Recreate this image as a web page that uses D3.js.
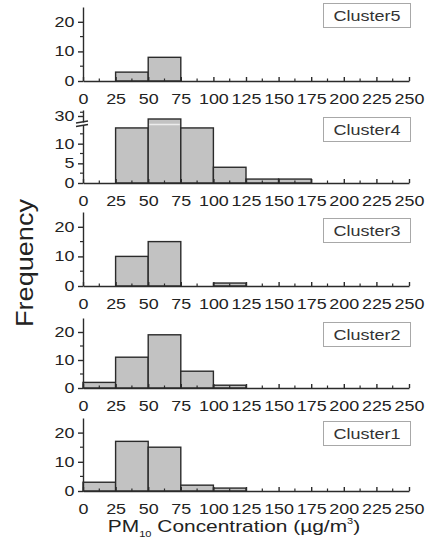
<!DOCTYPE html>
<html>
<head>
<meta charset="utf-8">
<script src="https://cdn.jsdelivr.net/npm/d3@7"></script>
<style>
  body { margin: 0; background: #fff; }
  svg { display: block; font-family: "Liberation Sans", Arial, sans-serif; }
</style>
</head>
<body>
<svg id="chart" width="436" height="551"></svg>
<script>
// bin edges (PM10, ug/m3) and per-cluster counts
var binStarts = [0, 25, 50, 75, 100, 125, 150, 175, 200, 225];
var binWidth = 25;
var xTicks = [0, 25, 50, 75, 100, 125, 150, 175, 200, 225, 250];

var cluster5 = [0, 3, 8, 0, 0, 0, 0, 0, 0, 0];
var cluster4 = [0, 14, 28, 14, 4, 1, 1, 0, 0, 0];
var cluster3 = [0, 10, 15, 0, 1, 0, 0, 0, 0, 0];
var cluster2 = [2, 11, 19, 6, 1, 0, 0, 0, 0, 0];
var cluster1 = [3, 17, 15, 2, 1, 0, 0, 0, 0, 0];

var names = ['Cluster5', 'Cluster4', 'Cluster3', 'Cluster2', 'Cluster1'];
var series = [cluster5, cluster4, cluster3, cluster2, cluster1];

var yTicksStd = [0, 10, 20];
var yMinorStd = [5, 15];
var yTicksBrk = [0, 5, 10, 30];
var yMinorBrk = [2.5, 7.5, 12.5, 32.5];

// layout, one per panel (top to bottom)
var panels = [
    { top: 7,   base: 81,  boxY: 3 },
    { top: 110, base: 183, boxY: 117, broken: true },
    { top: 212, base: 286, boxY: 218 },
    { top: 318, base: 388, boxY: 322 },
    { top: 418, base: 491, boxY: 421 }
];

var ink = '#2b2b2b';
var sx = 1.28;   // the source image is stretched horizontally

var svg = d3.select('#chart');
var x = d3.scaleLinear().domain([0, 250]).range([83, 409]);

panels.forEach(function(p, i){
    var data = series[i];
    var y;
    if (p.broken) {
        y = d3.scaleLinear().domain([0, 15, 26, 34]).range([p.base, 124, 122, p.top]);
    } else {
        y = d3.scaleLinear().domain([0, 25]).range([p.base, p.top]);
    }
    var g = svg.append('g');
    var bars = binStarts.map(function(b, k){ return { x0: b, v: data[k] }; })
        .filter(function(d){ return d.v > 0; });

    // bars
    g.selectAll('rect.bar')
        .data(bars)
        .enter().append('rect')
        .attr('class', 'bar')
        .attr('x', function(d){ return x(d.x0); })
        .attr('width', function(d){ return x(d.x0 + binWidth) - x(d.x0); })
        .attr('y', function(d){ return y(d.v); })
        .attr('height', function(d){ return y(0) - y(d.v); })
        .attr('fill', '#c2c2c2')
        .attr('stroke', ink)
        .attr('stroke-width', 1.4);

    if (p.broken) {
        // light gap through the bars that cross the break
        g.selectAll('line.gap')
            .data(bars.filter(function(d){ return d.v > 15; }))
            .enter().append('line')
            .attr('x1', function(d){ return x(d.x0) + 1; })
            .attr('x2', function(d){ return x(d.x0 + binWidth) - 1; })
            .attr('y1', 124.5).attr('y2', 124.5)
            .attr('stroke', '#ececec').attr('stroke-width', 1.5);
    }

    // x axis
    var xAx = d3.axisBottom(x).tickValues(xTicks).tickSizeInner(-4).tickSizeOuter(0).tickPadding(13);
    var gx = g.append('g').attr('transform', 'translate(0,' + p.base + ')').call(xAx);
    gx.selectAll('.domain, line').attr('stroke', ink).attr('stroke-width', 1.4);
    gx.selectAll('text')
        .attr('fill', '#222').attr('font-size', 14)
        .attr('font-family', '"Liberation Sans", Arial, sans-serif')
        .attr('transform', 'scale(' + sx + ',1)');
    // x minor ticks
    g.selectAll('line.xminor')
        .data(xTicks.slice(0, -1).map(function(t){ return t + 12.5; }))
        .enter().append('line')
        .attr('x1', function(d){ return x(d); }).attr('x2', function(d){ return x(d); })
        .attr('y1', p.base).attr('y2', p.base - 2.5)
        .attr('stroke', ink).attr('stroke-width', 1.2);

    // y axis
    var yAx = d3.axisLeft(y).tickValues(p.broken ? yTicksBrk : yTicksStd).tickSizeInner(5).tickSizeOuter(0);
    var gy = g.append('g').attr('transform', 'translate(' + x(0) + ',0)').call(yAx);
    gy.selectAll('.domain, line').attr('stroke', ink).attr('stroke-width', 1.4);
    gy.selectAll('text')
        .attr('fill', '#222').attr('font-size', 14)
        .attr('font-family', '"Liberation Sans", Arial, sans-serif')
        .attr('x', -8.5 / sx)
        .attr('transform', 'scale(' + sx + ',1)');
    g.selectAll('line.yminor')
        .data(p.broken ? yMinorBrk : yMinorStd)
        .enter().append('line')
        .attr('x1', x(0) - 3).attr('x2', x(0))
        .attr('y1', function(d){ return y(d); }).attr('y2', function(d){ return y(d); })
        .attr('stroke', ink).attr('stroke-width', 1.2);

    if (p.broken) {
        g.append('rect')
            .attr('x', x(0) - 2).attr('y', 122.5).attr('width', 4).attr('height', 2.5)
            .attr('fill', '#fff');
        [122, 125.5].forEach(function(yy){
            g.append('line')
                .attr('x1', x(0) - 7).attr('x2', x(0) + 5)
                .attr('y1', yy + 1).attr('y2', yy - 1)
                .attr('stroke', ink).attr('stroke-width', 1.5);
        });
    }

    // legend box
    g.append('rect')
        .attr('x', 323.5).attr('y', p.boxY + 0.5)
        .attr('width', 87).attr('height', 24)
        .attr('fill', '#fff').attr('stroke', '#a8a8a8').attr('stroke-width', 1);
    g.append('text')
        .attr('transform', 'translate(367,' + (p.boxY + 17.5) + ') scale(1.2,1)')
        .attr('text-anchor', 'middle')
        .attr('font-size', 15)
        .attr('fill', '#333')
        .text(names[i]);
});

// axis titles
var xt = svg.append('text')
    .attr('transform', 'translate(234,532) scale(1.23,1)')
    .attr('text-anchor', 'middle')
    .attr('font-size', 17)
    .attr('fill', '#222');
xt.append('tspan').text('PM');
xt.append('tspan').attr('font-size', 9).attr('dy', 5).text('10');
xt.append('tspan').attr('dy', -5).text(' Concentration (\u00b5g/m');
xt.append('tspan').attr('font-size', 9).attr('dy', -8).text('3');
xt.append('tspan').attr('dy', 8).text(')');

svg.append('text')
    .attr('transform', 'translate(33,263) rotate(-90)')
    .attr('text-anchor', 'middle')
    .attr('font-size', 24)
    .attr('textLength', 128)
    .attr('lengthAdjust', 'spacingAndGlyphs')
    .attr('fill', '#222')
    .text('Frequency');
</script>
</body>
</html>
